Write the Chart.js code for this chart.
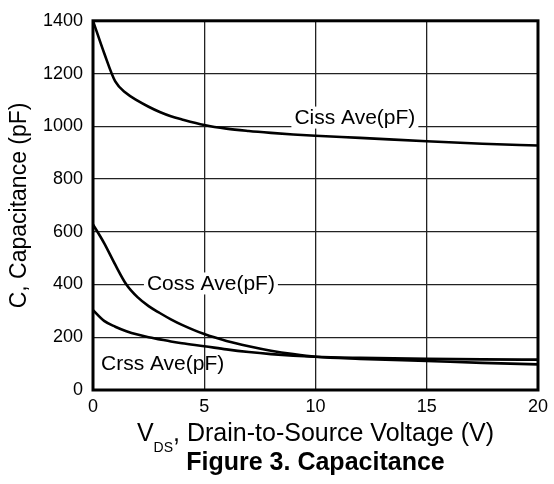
<!DOCTYPE html>
<html>
<head>
<meta charset="utf-8">
<title>Figure 3. Capacitance</title>
<script src="https://cdn.jsdelivr.net/npm/chart.js@4.4.1/dist/chart.umd.min.js"></script>
<style>
html, body { margin: 0; padding: 0; background: #fff; }
#wrap { width: 554px; height: 484px; position: relative; }
</style>
</head>
<body>
<div id="wrap"><canvas id="capChart"></canvas></div>
<script>
var vds  = [0, 0.5, 1, 1.5, 2, 2.5, 3, 3.5, 4, 5, 6, 7, 8, 9, 10, 12, 15, 17.5, 20];
// capacitances in pF
var ciss = [1400, 1278, 1170, 1125, 1097, 1074, 1054, 1038, 1026, 1005, 991, 982, 975, 969, 964, 956, 943, 934, 927];
var coss = [628, 557, 475, 400, 352, 318, 292, 268, 247, 212, 186, 166, 149, 136, 126, 118, 110, 103, 97];
var crss = [303, 262, 240, 223, 210, 200, 192, 184, 177, 166, 154, 144, 136, 130, 126, 122, 118, 116, 115];
var curveNames = ["Ciss Ave(pF)", "Coss Ave(pF)", "Crss Ave(pF)"];
var yTitle = "C, Capacitance (pF)";
var xTitle = ["V", "DS", ", Drain-to-Source Voltage (V)"]; // main, subscript, rest
var figTitle = "Figure 3. Capacitance";

var FONT = "'Liberation Sans', Arial, Helvetica, sans-serif";

function toPoints(ys){ // pairs every value with its voltage
	var out = [];
	for (var i = 0; i < vds.length; i++){
		out.push({x: vds[i], y: ys[i]});
	}
	return out;
}

function makeSet(name, ys){
	return {
		label: name,
		data: toPoints(ys),
		borderColor: "#000",
		borderWidth: 2.6,
		pointRadius: 0,
		fill: false,
		cubicInterpolationMode: "monotone"
	};
}

// curve captions, anchored in data units (x = V, y = pF)
var captions = [
	{text: curveNames[0], x: 11.77, y: 1033, box: true},
	{text: curveNames[1], x: 5.3, y: 404, box: true},
	{text: curveNames[2], x: 3.13, y: 102, box: false}
];

var decorPlugin = {
	id: "decor",
	beforeDatasetsDraw: function(chart){ // captions sit over the grid but under the curves
		var ctx = chart.ctx;
		var xs = chart.scales.x, ys = chart.scales.y;
		ctx.save();
		ctx.font = "21px " + FONT;
		ctx.textAlign = "center";
		ctx.textBaseline = "middle";
		captions.forEach(function(c){
			var px = xs.getPixelForValue(c.x);
			var py = ys.getPixelForValue(c.y);
			var w = ctx.measureText(c.text).width;
			if (c.box){
				ctx.fillStyle = "#fff";
				ctx.fillRect(px - w / 2 - 3, py - 11, w + 6, 22);
			}
			ctx.fillStyle = "#000";
			ctx.fillText(c.text, px, py + 1);
		});
		ctx.restore();
	},
	afterDraw: function(chart){
		var ctx = chart.ctx;
		var a = chart.chartArea;
		var mid = (a.left + a.right) / 2;
		ctx.save();
		// heavy frame round the plot
		ctx.strokeStyle = "#000";
		ctx.lineWidth = 3;
		ctx.strokeRect(a.left, a.top, a.right - a.left, a.bottom - a.top);

		// y axis title
		ctx.fillStyle = "#000";
		ctx.font = "23px " + FONT;
		ctx.translate(19, (a.top + a.bottom) / 2);
		ctx.rotate(-Math.PI / 2);
		ctx.textAlign = "center";
		ctx.textBaseline = "middle";
		ctx.fillText(yTitle, 0, 1);
		ctx.setTransform(chart.currentDevicePixelRatio, 0, 0, chart.currentDevicePixelRatio, 0, 0);

		// x axis title with subscript DS
		ctx.textAlign = "left";
		ctx.textBaseline = "alphabetic";
		var big = "25px " + FONT, small = "14px " + FONT;
		ctx.font = big;
		var w1 = ctx.measureText(xTitle[0]).width;
		var w3 = ctx.measureText(xTitle[2]).width;
		ctx.font = small;
		var w2 = ctx.measureText(xTitle[1]).width;
		var x0 = mid - (w1 + w2 + w3) / 2;
		ctx.font = big;
		ctx.fillText(xTitle[0], x0, 441);
		ctx.font = small;
		ctx.fillText(xTitle[1], x0 + w1, 452);
		ctx.font = big;
		ctx.fillText(xTitle[2], x0 + w1 + w2, 441);

		// figure caption
		ctx.font = "bold 25px " + FONT;
		ctx.textAlign = "center";
		ctx.fillText(figTitle, mid, 470);
		ctx.restore();
	}
};

var ctx = document.getElementById("capChart").getContext("2d");

var chart = new Chart(ctx, {
	type: "line",
	data: {
		datasets: [makeSet(curveNames[0], ciss), makeSet(curveNames[1], coss), makeSet(curveNames[2], crss)]
	},
	options: {
		responsive: true,
		maintainAspectRatio: false,
		animation: false,
		layout: { padding: { top: 20, right: 14, bottom: 64, left: 0 } },
		plugins: {
			legend: { display: false },
			tooltip: { enabled: false }
		},
		scales: {
			x: {
				type: "linear",
				min: 0,
				max: 20,
				ticks: { stepSize: 5, color: "#000", padding: 6, font: { family: FONT, size: 18 },
					callback: function(v){ return String(v); } },
				grid: { color: "#222", lineWidth: 1.3, drawTicks: false },
				border: { display: false },
				afterFit: function(s){ s.height = 30; }
			},
			y: {
				min: 0,
				max: 1400,
				ticks: { stepSize: 200, color: "#000", padding: 10, font: { family: FONT, size: 18 },
					callback: function(v){ return String(v); } }, // no thousands comma
				grid: { color: "#222", lineWidth: 1.3, drawTicks: false },
				border: { display: false },
				afterFit: function(s){ s.width = 93; }
			}
		}
	},
	plugins: [decorPlugin]
});
</script>
</body>
</html>
